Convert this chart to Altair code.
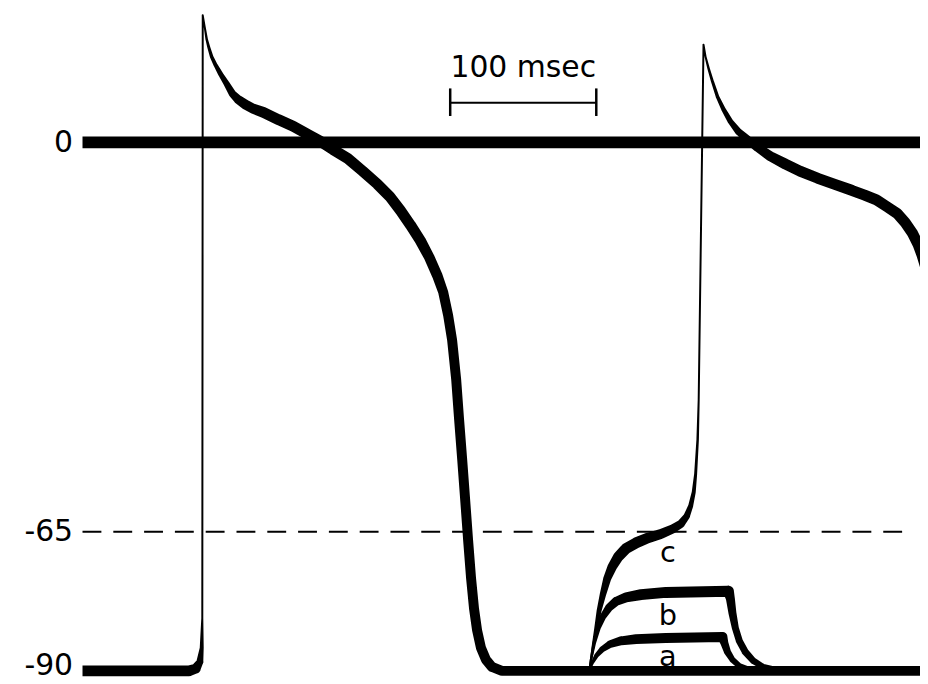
import altair as alt
import pandas as pd

# ---- values: time (ms) and membrane potential (mV) ----
# action potential 1 and the resting baseline that follows it
ap1_t = [-82.3, -9.5, -4.8, -2.0, -0.7, -0.3, 0.0, 1.4, 2.7, 4.1, 6.1, 8.8, 12.2, 16.3, 20.4,
         24.5, 29.3, 34.7, 41.5, 51.7, 61.9, 72.1, 80.3, 89.1, 99.3, 109.5, 119.7, 127.9,
         135.4, 142.2, 149.0, 155.1, 160.5, 164.6, 168.0, 170.7, 173.5, 175.5, 177.6, 179.6,
         181.6, 183.7, 185.7, 187.8, 190.5, 193.9, 198.0, 204.8, 495.0]
ap1_v = [-90, -90, -89.6, -88.4, -85.9, -80.5, 21.2, 19.2, 17.2, 15.9, 14.3, 12.9, 11.4, 9.8,
         8.1, 7.1, 6.3, 5.6, 5.0, 3.8, 2.7, 1.3, 0.2, -1.2, -2.7, -4.8, -7.0, -9.0, -11.4,
         -13.8, -16.4, -19.2, -22.2, -25.0, -28.9, -33.0, -39.6, -46.3, -52.9, -59.5, -66.3,
         -73.4, -78.8, -82.7, -85.9, -88.0, -89.3, -90, -90]
# prepotential c reaching threshold, then action potential 2
c_t = [264.6, 266.0, 267.3, 269.4, 271.4, 274.1, 276.9, 280.3, 284.4, 289.8, 296.6, 304.8,
       313.6, 321.8, 327.2, 331.3, 334.0, 336.1, 337.4, 338.8, 339.5, 342.8, 344.2, 346.3,
       349.0, 352.4, 356.5, 361.2, 366.7, 372.8, 379.6, 388.4, 398.6, 408.8, 421.1, 432.7,
       444.2, 453.1, 461.2, 468.7, 475.5, 480.9, 485.7, 489.8, 492.5, 495.2]
c_v = [-90, -87.7, -85.5, -82.3, -79.1, -76.1, -73.4, -71.3, -69.5, -68.0, -67.0, -66.1,
       -65.4, -64.5, -63.7, -62.4, -60.7, -58.4, -55.4, -49.6, -43.0, 16.3, 14.3, 12.3,
       10.1, 7.6, 5.5, 3.5, 1.8, 0.5, -0.8, -2.3, -3.6, -4.8, -6.0, -7.0, -8.0, -8.8, -9.6,
       -10.8, -11.9, -13.4, -15.1, -17.1, -18.9, -21.1]
# subthreshold responses b and a
b_t = [264.6, 266.0, 268.0, 270.7, 274.1, 278.2, 283.0, 289.8, 300.0, 317.0, 359.9, 361.2,
       362.6, 364.6, 367.3, 371.4, 376.9, 383.7, 391.8, 402.0]
b_v = [-90, -87.7, -85.0, -82.3, -80.2, -78.6, -77.5, -76.8, -76.3, -75.9, -75.7, -77.0,
       -79.6, -82.3, -84.6, -86.6, -88.2, -89.3, -89.8, -90]
a_t = [264.6, 266.7, 269.4, 273.5, 278.9, 286.4, 296.6, 317.0, 355.8, 357.1, 359.2, 362.6,
       367.3, 372.8, 379.6]
a_v = [-90, -88.6, -87.3, -86.1, -85.2, -84.6, -84.3, -84.1, -83.9, -85.0, -86.6, -88.0,
       -89.1, -89.6, -90]

# pen width (px) along each trace: a drawing style, kept apart from the values
ap1_pen = [11, 11, 10, 7, 4, 2, 2, 2, 2.5, 3, 3.5, 4, 5, 6, 7.5, 9, 10, 10, 11, 11, 11, 11,
           11, 11, 11, 11, 11, 11, 11, 11, 11, 10.5, 10.5, 10, 10, 10, 10, 10, 10, 10, 10,
           10, 10, 10, 10, 10, 10, 10, 10]
c_pen = [2, 2.5, 3, 4, 5, 6.5, 8, 9.5, 10.5, 11, 11, 10.5, 10, 9, 8, 6.5, 5, 4, 3, 2.5, 2,
         2, 2, 2.5, 3, 3.5, 4.5, 5.5, 7, 8, 9, 10, 11, 11, 11, 11, 11, 11, 11, 11, 11, 11,
         11, 11, 11, 11]
b_pen = [2, 2.5, 3.5, 5, 6.5, 8, 9, 10, 11, 11, 11, 9, 8, 7, 7, 7, 6.5, 6, 6, 6]
a_pen = [2, 3, 4.5, 6, 7.5, 9, 10, 10, 10, 8, 7, 6, 5.5, 5, 5]

# reference levels (mV) and labels
level_values = [0, -65, -90]
curve_labels = ["c", "b", "a"]
curve_label_t = [318.4, 318.4, 318.4]
curve_label_v = [-70.4, -81.8, -89.1]
scalebar_start, scalebar_len = 169.4, 100.0   # ms
scalebar_v = 6.6

rows = []
for name, ts, vs, ws in [("ap1", ap1_t, ap1_v, ap1_pen), ("c", c_t, c_v, c_pen),
                         ("b", b_t, b_v, b_pen), ("a", a_t, a_v, a_pen)]:
    for i, (t, v, w) in enumerate(zip(ts, vs, ws)):
        rows.append({"trace": name, "i": i, "t": t, "v": v, "w": w})
traces = pd.DataFrame(rows)

xscale = alt.Scale(domain=[-82.3, 491.0], nice=False, zero=False)
yscale = alt.Scale(domain=[-90, -65, 0], range=[665, 525, 133], nice=False, zero=False)
yaxis = alt.Axis(values=level_values, labelFontSize=30, labelFont="DejaVu Sans",
                 labelColor="black", ticks=False, domain=False, grid=False, title=None,
                 labelPadding=10, labelOverlap=False,
                 labelOffset={"condition": {"test": "datum.value == -90", "value": -5},
                              "value": 0},
                 labelExpr="datum.value == 0 ? '0' : '-' + abs(datum.value)")

def X(f):
    return alt.X(f, type="quantitative", scale=xscale, axis=None)

def Y(f):
    return alt.Y(f, type="quantitative", scale=yscale, axis=yaxis)

zero_df = pd.DataFrame({"t0": [-82.3], "t1": [495.0], "v": [0]})
dash_df = pd.DataFrame({"t0": [-82.3], "t1": [479.0], "v": [-65]})
bar_df = pd.DataFrame({"t0": [scalebar_start], "t1": [scalebar_start + scalebar_len],
                       "v": [scalebar_v]})
tick_df = pd.DataFrame({"t": [scalebar_start, scalebar_start + scalebar_len],
                        "v0": [scalebar_v - 2.2, scalebar_v - 2.2],
                        "v1": [scalebar_v + 2.4, scalebar_v + 2.4]})
bar_text = pd.DataFrame({"t": [scalebar_start + scalebar_len / 2], "v": [10.95],
                         "label": ["100 msec"]})
lab_df = pd.DataFrame({"t": curve_label_t, "v": curve_label_v, "label": curve_labels})

zero_line = alt.Chart(zero_df).mark_rule(color="black", strokeWidth=12, strokeCap="butt").encode(
    x=X("t0"), x2="t1", y=Y("v"))
dash_line = alt.Chart(dash_df).mark_rule(color="black", strokeWidth=2, strokeDash=[19, 12],
                                         strokeCap="butt").encode(x=X("t0"), x2="t1", y=Y("v"))
trails = alt.Chart(traces).mark_trail(color="black", clip=True).encode(
    x=X("t"), y=Y("v"), size=alt.Size("w:Q", scale=None, legend=None),
    detail="trace:N", order="i:Q")
bar = alt.Chart(bar_df).mark_rule(color="black", strokeWidth=2).encode(
    x=X("t0"), x2="t1", y=Y("v"))
ticks = alt.Chart(tick_df).mark_rule(color="black", strokeWidth=2.5).encode(
    x=X("t"), y=Y("v0"), y2="v1")
bar_label = alt.Chart(bar_text).mark_text(font="DejaVu Sans", fontSize=30, color="black",
                                          align="center", baseline="alphabetic").encode(
    x=X("t"), y=Y("v"), text="label:N")
curve_text = alt.Chart(lab_df).mark_text(font="DejaVu Sans", fontSize=29, color="black",
                                         align="center", baseline="alphabetic").encode(
    x=X("t"), y=Y("v"), text="label:N")

chart = alt.layer(zero_line, dash_line, trails, bar, ticks, bar_label, curve_text).properties(
    width=843, height=676,
    autosize=alt.AutoSizeParams(type="none"),
    padding={"left": 75, "top": 0, "right": 0, "bottom": 0},
    background="white",
).configure_view(stroke=None)

chart.save("out.html", embed_options={"renderer": "svg", "actions": False})
